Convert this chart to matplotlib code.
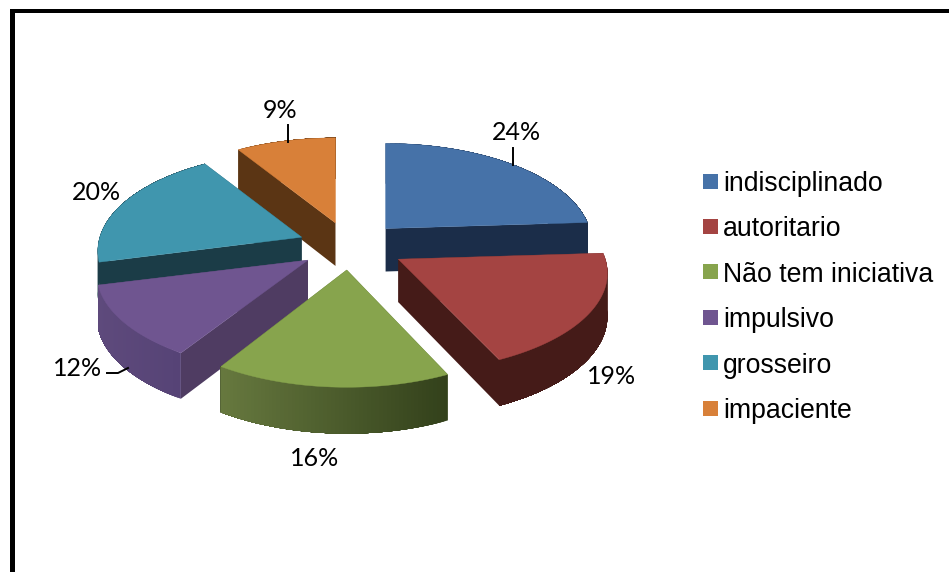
import numpy as np
import matplotlib
matplotlib.use("Agg")
import matplotlib.pyplot as plt
from matplotlib.colors import to_rgb
from matplotlib.patches import Polygon, Rectangle

categorias = ["indisciplinado", "autoritario", "Não tem iniciativa",
              "impulsivo", "grosseiro", "impaciente"]
valores = [24, 19, 16, 12, 20, 9]

cor_topo = ["#4672a8", "#a44442", "#87a44d", "#6f5590", "#4096ae", "#d88039"]
cor_corte = ["#1b2d49", "#451b18", "#3a4a20", "#4f3c62", "#1b3c47", "#5b3514"]
# borda externa: cor na esquerda e na direita da fatia
cor_borda = [("#1b2d49", "#1b2d49"), ("#451b18", "#451b18"), ("#67793f", "#33411b"),
             ("#5e4a7c", "#564376"), ("#1b3c47", "#1b3c47"), ("#5b3514", "#5b3514")]

# onde fica cada rotulo e a linha de chamada, em pixels
pos_rotulo = [(516, 132), (612, 376), (315, 459), (78, 368), (96, 193), (280, 110)]
chamadas = {0: [(513, 148), (513, 165)],
            5: [(288, 125), (288, 142)],
            3: [(107, 373), (118, 373), (128, 368)]}

CX, CY = 350, 246
RX, RY = 207, 97
PERSP = 0.14
PROF = 43
EXPL_X, EXPL_Y = 52, 24
# ajuste de raio e de afastamento de cada fatia
esc_raio = [0.985, 1.0, 1.0, 1.01, 0.975, 0.98]
esc_alt = [1.0, 1.0, 1.04, 1.0, 1.0, 1.0]
esc_expl = [1.0, 1.08, 1.0, 1.0, 1.0, 1.0]
# ordem de desenho, do fundo para a frente
ordem = [5, 0, 4, 3, 1, 2]


def borda(ax0, ay0, ang, i):
    s = 1 / (1 + PERSP * np.cos(ang))
    return (ax0 + esc_raio[i] * RX * np.sin(ang) * s,
            ay0 - esc_alt[i] * RY * np.cos(ang) * s, s)


def desenha_fatia(ax, i, ini, fim):
    meio = (ini + fim) / 2
    ax0 = CX + esc_expl[i] * EXPL_X * np.sin(meio)
    ay0 = CY - esc_expl[i] * EXPL_Y * np.cos(meio)
    angs = np.linspace(ini, fim, 61)
    xs, ys, ss = borda(ax0, ay0, angs, i)
    xb, yb = xs, ys + PROF * np.sqrt(ss)

    # faces do corte
    for k in (0, -1):
        pts = [(ax0, ay0), (xs[k], ys[k]), (xb[k], yb[k]), (ax0, ay0 + PROF)]
        ax.add_patch(Polygon(pts, fc=cor_corte[i], ec="none"))

    # lateral curva: cada tira cobre a seguinte ate o fim para nao sobrar listra
    c1, c2 = map(np.array, map(to_rgb, cor_borda[i]))
    xmin, xmax = xs.min(), xs.max()
    for k in range(len(angs) - 1):
        t = (xs[k] - xmin) / (xmax - xmin)
        cor = c1 + (c2 - c1) * t
        pts = list(zip(xs[k:], ys[k:])) + list(zip(xb[k:][::-1], yb[k:][::-1]))
        ax.add_patch(Polygon(pts, fc=cor, ec="none"))

    topo = [(ax0, ay0)] + list(zip(xs, ys))
    ax.add_patch(Polygon(topo, fc=cor_topo[i], ec=cor_topo[i], lw=0.3))


fig = plt.figure(figsize=(9.49, 5.72), dpi=100)
ax = fig.add_axes([0, 0, 1, 1])
ax.set_xlim(0, 949)
ax.set_ylim(572, 0)
ax.axis("off")

# moldura preta, so em cima e a esquerda
ax.add_patch(Rectangle((10, 9), 939, 4, fc="black", ec="none"))
ax.add_patch(Rectangle((10, 9), 5, 563, fc="black", ec="none"))

limites = np.cumsum([0] + valores) / sum(valores) * 2 * np.pi
for i in ordem:
    desenha_fatia(ax, i, limites[i], limites[i + 1])

for i, v in enumerate(valores):
    x, y = pos_rotulo[i]
    ax.text(x, y, f"{v}%", family="Lato", fontsize=18, ha="center", va="center", color="black")
for pts in chamadas.values():
    ax.plot(*zip(*pts), color="black", lw=1.4)

# legenda
for i, nome in enumerate(categorias):
    y = 181 + i * 45.4
    ax.add_patch(Rectangle((703, y - 7.5), 15, 15, fc=cor_topo[i], ec="none"))
    ax.text(723, y, nome, family="Liberation Sans", fontsize=19.2, ha="left",
            va="center_baseline", color="black")

fig.savefig("out.png", dpi=100)
